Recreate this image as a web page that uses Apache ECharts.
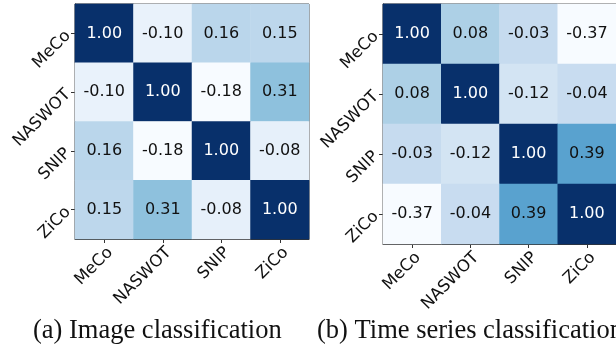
<!DOCTYPE html>
<html>
<head>
<meta charset="utf-8">
<script src="https://cdn.jsdelivr.net/npm/echarts@6/dist/echarts.min.js"></script>
<style>
  html, body { margin: 0; padding: 0; background: #fff; }
  #chart { width: 616px; height: 349px; }
</style>
</head>
<body>
<div id="chart"></div>
<script>
// Proxy names shared by both correlation matrices
const metrics = ['MeCo', 'NASWOT', 'SNIP', 'ZiCo'];

// Pairwise rank correlations, row-major (row = y category, column = x category)
const imageCorr = [
  [1.00, -0.10, 0.16, 0.15],
  [-0.10, 1.00, -0.18, 0.31],
  [0.16, -0.18, 1.00, -0.08],
  [0.15, 0.31, -0.08, 1.00]
];
const timeSeriesCorr = [
  [1.00, 0.08, -0.03, -0.37],
  [0.08, 1.00, -0.12, -0.04],
  [-0.03, -0.12, 1.00, 0.39],
  [-0.37, -0.04, 0.39, 1.00]
];

const captions = ['(a) Image classification', '(b) Time series classification'];

// Sequential "Blues" ramp
const blues = ['#f7fbff', '#deebf7', '#c6dbef', '#9ecae1', '#6baed6',
               '#4292c6', '#2171b5', '#08519c', '#08306b'];

function flatMin(m) { return Math.min.apply(null, m.flat()); }
function flatMax(m) { return Math.max.apply(null, m.flat()); }

function cells(matrix) {
  const lo = flatMin(matrix), hi = flatMax(matrix);
  const out = [];
  matrix.forEach((row, r) => {
    row.forEach((v, c) => {
      const t = (v - lo) / (hi - lo);
      out.push({
        value: [c, r, v],
        label: { color: t > 0.75 ? '#ffffff' : '#111111' }
      });
    });
  });
  return out;
}

const frame = '#333333';
const labelFont = 'DejaVu Sans';

function xAxisFor(gridIndex) {
  return {
    type: 'category', gridIndex, data: metrics,
    axisLine: { show: true, lineStyle: { color: frame, width: 1 } },
    axisTick: { show: true, alignWithLabel: true, length: 4, lineStyle: { color: frame } },
    axisLabel: { rotate: 45, margin: 5, verticalAlign: 'top', fontFamily: labelFont, fontSize: 16.5, color: '#111' },
    splitLine: { show: false }
  };
}
function yAxisFor(gridIndex) {
  return {
    type: 'category', gridIndex, data: metrics, inverse: true,
    axisLine: { show: true, lineStyle: { color: frame, width: 1 } },
    axisTick: { show: true, alignWithLabel: true, length: 4, lineStyle: { color: frame } },
    axisLabel: { rotate: 45, margin: 7, fontFamily: labelFont, fontSize: 16.5, color: '#111' },
    splitLine: { show: false }
  };
}
function heat(index, matrix) {
  return {
    type: 'heatmap', xAxisIndex: index, yAxisIndex: index,
    data: cells(matrix),
    label: {
      show: true, fontFamily: labelFont, fontSize: 16,
      formatter: p => p.value[2].toFixed(2)
    },
    emphasis: { disabled: true },
    itemStyle: { borderWidth: 0 },
    animation: false
  };
}

const chart = echarts.init(document.getElementById('chart'), null, { renderer: 'canvas' });
chart.setOption({
  backgroundColor: '#ffffff',
  animation: false,
  grid: [
    { left: 75, top: 4, width: 234, height: 235, show: true, borderColor: frame, borderWidth: 1, backgroundColor: 'transparent' },
    { left: 383, top: 4, width: 240, height: 240, show: true, borderColor: frame, borderWidth: 1, backgroundColor: 'transparent' }
  ],
  xAxis: [xAxisFor(0), xAxisFor(1)],
  yAxis: [yAxisFor(0), yAxisFor(1)],
  visualMap: [
    { type: 'continuous', show: false, seriesIndex: 0, dimension: 2,
      min: flatMin(imageCorr), max: flatMax(imageCorr), inRange: { color: blues } },
    { type: 'continuous', show: false, seriesIndex: 1, dimension: 2,
      min: flatMin(timeSeriesCorr), max: flatMax(timeSeriesCorr), inRange: { color: blues } }
  ],
  series: [heat(0, imageCorr), heat(1, timeSeriesCorr)],
  graphic: [
    { type: 'text', left: 33, top: 318,
      style: { text: captions[0], font: '26.5px "Liberation Serif"', fill: '#111' } },
    { type: 'text', left: 317, top: 318,
      style: { text: captions[1], font: '26.5px "Liberation Serif"', fill: '#111' } }
  ]
});
</script>
</body>
</html>
